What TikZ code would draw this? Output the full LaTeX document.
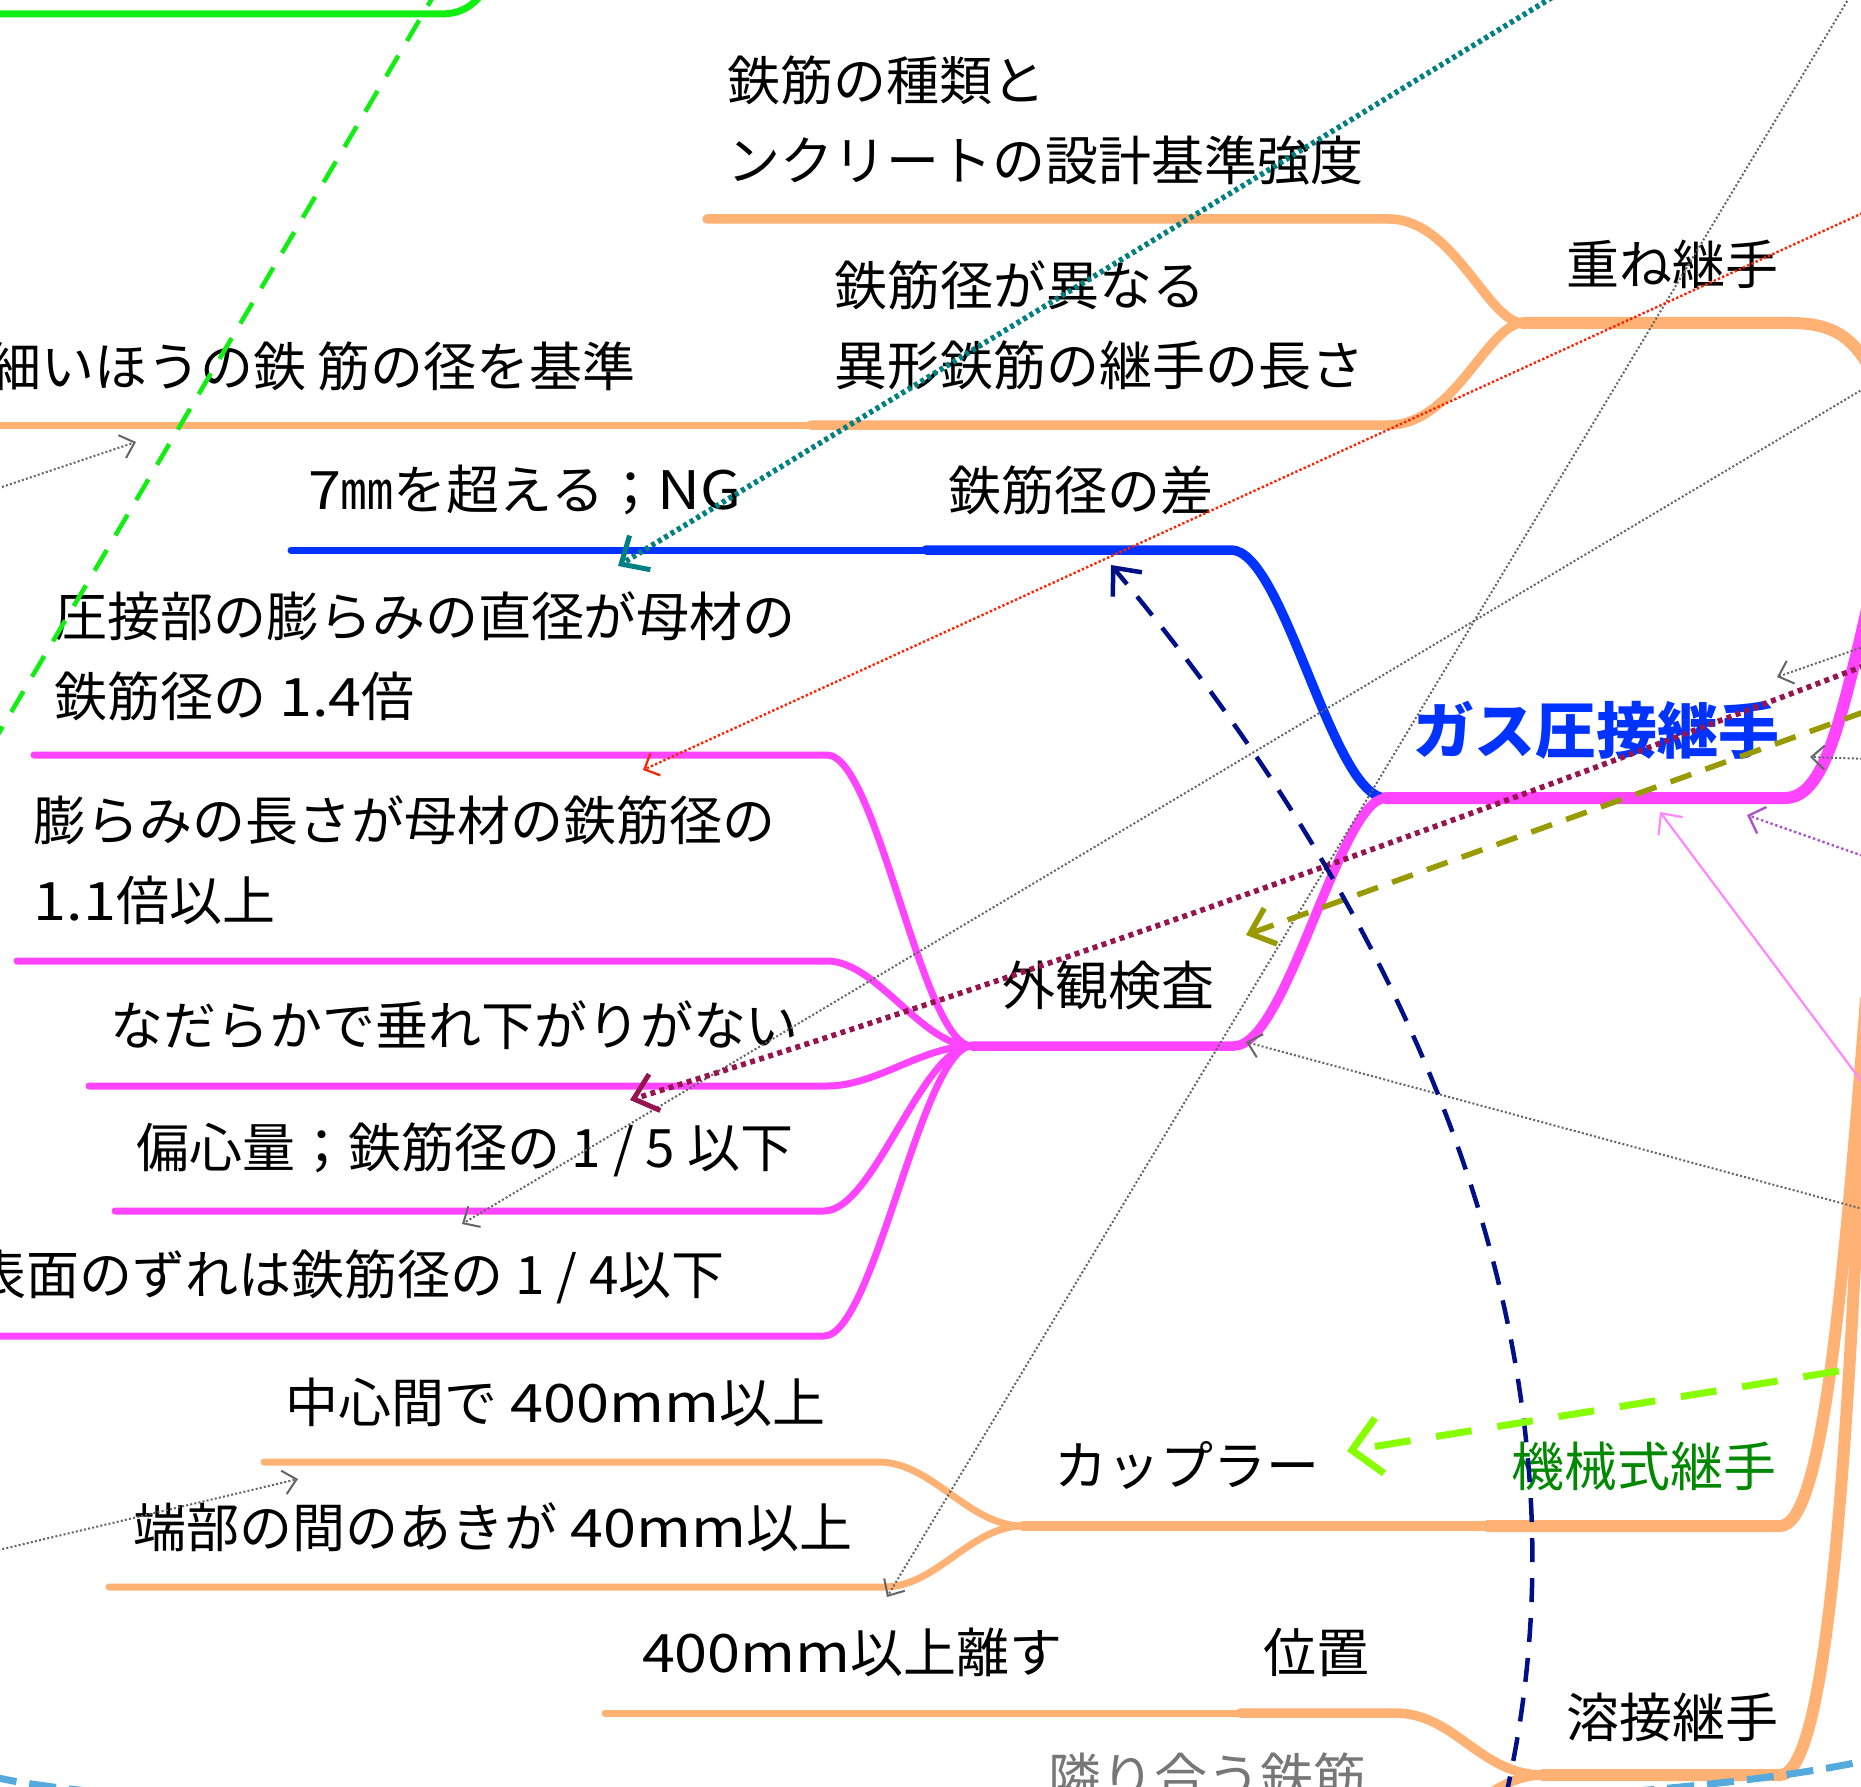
\documentclass[tikz,border=0pt]{standalone}
\usepackage{fontspec}
\newfontfamily\jp{Noto Sans CJK JP}
\newfontfamily\jpl{Noto Sans CJK JP}[FakeStretch=1.12]
\newcommand{\lt}[1]{{\jpl #1}}
\usetikzlibrary{arrows.meta}
\definecolor{orangeC}{RGB}{255,178,115}
\definecolor{magC}{RGB}{255,68,255}
\definecolor{blueC}{RGB}{0,51,255}
\definecolor{greenC}{RGB}{17,238,17}
\definecolor{tealC}{RGB}{0,128,128}
\definecolor{redC}{RGB}{255,34,0}
\definecolor{grayC}{RGB}{100,100,100}
\definecolor{maroonC}{RGB}{150,20,80}
\definecolor{oliveC}{RGB}{153,153,0}
\definecolor{navyC}{RGB}{0,17,136}
\definecolor{chartC}{RGB}{136,255,0}
\definecolor{pinkC}{RGB}{255,136,255}
\definecolor{purpleC}{RGB}{170,85,204}
\definecolor{lblueC}{RGB}{85,170,221}
\definecolor{kikaiC}{RGB}{0,136,0}
\definecolor{tonariC}{RGB}{119,119,119}
\begin{document}
\begin{tikzpicture}[x=1pt,y=-1pt,
  txt/.style={inner sep=0pt, outer sep=0pt, font=\jp\fontsize{53}{80}\selectfont, align=left, text=black},
  L1/.style={line width=12pt, line cap=round},
  L2/.style={line width=9.5pt, line cap=round},
  L3/.style={line width=7pt, line cap=round},
  gdot/.style={draw=grayC, line width=2pt, dash pattern=on 2pt off 2.2pt, -{Straight Barb[length=13pt,width=24pt,line width=2pt]}},
]
\useasboundingbox (0,0) rectangle (1861,1787);
\clip (0,0) rectangle (1861,1787);
\fill[white] (0,0) rectangle (1861,1787);

% ---------- fork points ----------
\coordinate (F1) at (1523,323);
\coordinate (F2) at (1386,798);
\coordinate (F3) at (972,1046);
\coordinate (F4) at (1023,1526);
\coordinate (F5) at (1543,1775);

% ---------- top green branch ----------
\draw[greenC, line width=7pt, line cap=round] (-10,14) -- (440,14) .. controls (462,14) and (474,6) .. (488,-14);

% ---------- 重ね継手 (orange) ----------
\draw[orangeC, L1] (F1) -- (1790,323) .. controls (1830,323) and (1850,335) .. (1868,365) -- (1890,410);
\draw[orangeC, L2] (707,219) -- (1389,219) .. controls (1454,219) and (1488,323) .. (F1);
\draw[orangeC, L2] (811,425) -- (1389,425) .. controls (1454,425) and (1488,323) .. (F1);
\draw[orangeC, L3] (-10,425) -- (811,425);

% ---------- ガス圧接継手 (magenta / blue) ----------
\draw[blueC, L2] (926,550) -- (1231,550) .. controls (1284,550) and (1332,798) .. (F2);
\draw[blueC, L3] (291,550) -- (926,550);
\draw[magC, L1] (F2) -- (1785,798) .. controls (1822,798) and (1838,730) .. (1860,640) -- (1876,570);
\draw[magC, L2] (F2) .. controls (1340,798) and (1287,1046) .. (1234,1046) -- (F3);
\draw[magC, L3] (34,755) -- (827,755) .. controls (877,755) and (922,1046) .. (F3);
\draw[magC, L3] (17,961) -- (827,961) .. controls (877,961) and (922,1046) .. (F3);
\draw[magC, L3] (89,1086) -- (827,1086) .. controls (877,1086) and (922,1046) .. (F3);
\draw[magC, L3] (115,1211) -- (824,1211) .. controls (874,1211) and (922,1046) .. (F3);
\draw[magC, L3] (-10,1336) -- (824,1336) .. controls (874,1336) and (922,1046) .. (F3);

% ---------- 機械式継手 (orange) ----------
\draw[orangeC, L1] (1488,1526) -- (1780,1526) .. controls (1822,1526) and (1842,1300) .. (1866,1000);
\draw[orangeC, L2] (F4) -- (1488,1526);
\draw[orangeC, L3] (264,1462) -- (878,1462) .. controls (933,1462) and (968,1526) .. (F4);
\draw[orangeC, L3] (109,1587) -- (884,1587) .. controls (937,1587) and (970,1526) .. (F4);

% ---------- 溶接継手 (orange) ----------
\draw[orangeC, L1] (F5) -- (1780,1775) .. controls (1828,1775) and (1850,1450) .. (1866,1000);
\draw[orangeC, L2] (1240,1713) -- (1395,1713) .. controls (1455,1713) and (1480,1775) .. (F5);
\draw[orangeC, L3] (605,1713) -- (1240,1713);
\draw[orangeC, L2] (F5) .. controls (1485,1775) and (1455,1840) .. (1395,1840) -- (1040,1840);

% ---------- texts ----------
\node[txt, anchor=west] (tShurui) at (727,120) {鉄筋の種類と\\ンクリートの設計基準強度};
\node[txt, anchor=west] (tKasane) at (1566,264) {重ね継手};
\node[txt, anchor=west] (tIgata) at (834,325) {鉄筋径が異なる\\異形鉄筋の継手の長さ};
\node[txt, anchor=east] (tHosoi) at (636,366) {細いほうの鉄 筋の径を基準};
\node[txt, anchor=west] (t7mm) at (308,490) {\lt{7}㎜を超える；\lt{NG}};
\node[txt, anchor=west] (tSa) at (948,490) {鉄筋径の差};
\node[txt, anchor=west, font=\jp\bfseries\fontsize{61}{70}\selectfont, text=blueC] (tGas) at (1413,730) {ガス圧接継手};
\node[txt, anchor=west] (tAssetsu) at (54,656) {圧接部の膨らみの直径が母材の\\鉄筋径の\lt{ 1.4}倍};
\node[txt, anchor=west] (tFukurami) at (34,860) {膨らみの長さが母材の鉄筋径の\\\lt{1.1}倍以上};
\node[txt, anchor=west] (tGaikan) at (1002,985) {外観検査};
\node[txt, anchor=west] (tNadaraka) at (110,1025) {なだらかで垂れ下がりがない};
\node[txt, anchor=west] (tHenshin) at (136,1150) {偏心量；鉄筋径の 1 / 5 以下};
\node[txt, anchor=east] (tHyomen) at (725,1277) {表面のずれは鉄筋径の 1 / 4以下};
\node[txt, anchor=west] (tChushin) at (285,1402) {中心間で\lt{ 400mm}以上};
\node[txt, anchor=west] (tTanbu) at (133,1527) {端部の間のあきが\lt{ 40mm}以上};
\node[txt, anchor=west] (tCoupler) at (1054,1465) {カップラー};
\node[txt, anchor=west, text=kikaiC] (tKikai) at (1511,1466) {機械式継手};
\node[txt, anchor=west] (t400) at (642,1652) {\lt{400mm}以上離す};
\node[txt, anchor=west] (tIchi) at (1263,1652) {位置};
\node[txt, anchor=west] (tYosetsu) at (1566,1717) {溶接継手};
\node[txt, anchor=west, text=tonariC] (tTonari) at (1048,1777) {隣り合う鉄筋};

% ---------- relationship end points ----------
\coordinate (gdA) at (440,-15);   \coordinate (gdB) at (-10,748);
\coordinate (teS) at (1584,-22);  \coordinate (teT) at (618,566);
\coordinate (reS) at (1900,196);  \coordinate (reT) at (643,770);
\coordinate (g1S) at (1858,-17);  \coordinate (g1T) at (887,1597);
\coordinate (g2S) at (1900,367);  \coordinate (g2T) at (462,1224);
\coordinate (g3S) at (-10,491);   \coordinate (g3T) at (136,442);
\coordinate (g4S) at (-10,1552);  \coordinate (g4T) at (298,1479);
\coordinate (g5S) at (1900,1219); \coordinate (g5T) at (1246,1042);
\coordinate (g6S) at (1900,634);  \coordinate (g6T) at (1777,677);
\coordinate (g7S) at (1900,760);  \coordinate (g7T) at (1810,757);
\coordinate (maS) at (1900,652);  \coordinate (maT) at (630,1100);
\coordinate (olS) at (1900,699);  \coordinate (olT) at (1246,935);
\coordinate (naS) at (1505,1800); \coordinate (naT) at (1111,565);
\coordinate (chS) at (1900,1361); \coordinate (chT) at (1347,1451);
\coordinate (piS) at (1880,1106); \coordinate (piT) at (1660,812);
\coordinate (puS) at (1900,869);  \coordinate (puT) at (1747,815);
\coordinate (lbS) at (-10,1776);  \coordinate (lbT) at (1900,1752);

% ---------- relationships ----------
\draw[greenC, line width=4.5pt, dash pattern=on 24pt off 17pt] (gdA) -- (gdB);
\draw[lblueC, line width=7pt, dash pattern=on 27pt off 13pt] (lbS) .. controls (200,1830) and (1600,1840) .. (lbT);
\draw[gdot] (g1S) -- (g1T);
\draw[gdot] (g2S) -- (g2T);
\draw[gdot] (g3S) -- (g3T);
\draw[gdot] (g4S) -- (g4T);
\draw[gdot] (g5S) -- (g5T);
\draw[gdot] (g6S) -- (g6T);
\draw[gdot] (g7S) -- (g7T);
\draw[redC, line width=2.4pt, dash pattern=on 2.4pt off 2.2pt, -{Straight Barb[length=12pt,width=24pt,line width=2.2pt]}] (reS) -- (reT);
\draw[purpleC, line width=2.4pt, dash pattern=on 2.4pt off 2.6pt, -{Straight Barb[length=14pt,width=28pt,line width=2.4pt]}] (puS) -- (puT);
\draw[pinkC, line width=2.2pt, -{Straight Barb[length=16pt,width=30pt,line width=2.2pt]}] (piS) -- (piT);
\draw[tealC, line width=5.5pt, dash pattern=on 4pt off 3.5pt, -{Straight Barb[length=22pt,width=40pt,line width=5pt]}] (teS) -- (teT);
\draw[maroonC, line width=5.5pt, dash pattern=on 5pt off 4.5pt, -{Straight Barb[length=22pt,width=38pt,line width=5pt]}] (maS) .. controls (1461,821) and (1030,976) .. (maT);
\draw[oliveC, line width=5.5pt, dash pattern=on 22pt off 15pt, -{Straight Barb[length=22pt,width=38pt,line width=5.5pt]}] (olS) -- (olT);
\draw[navyC, line width=4.5pt, dash pattern=on 24pt off 16pt, -{Straight Barb[length=22pt,width=38pt,line width=4.5pt]}] (naS) .. controls (1620,1300) and (1350,850) .. (naT);
\draw[chartC, line width=7pt, dash pattern=on 36pt off 26pt, -{Straight Barb[length=28pt,width=56pt,line width=7pt]}] (chS) -- (chT);
\end{tikzpicture}
\end{document}
